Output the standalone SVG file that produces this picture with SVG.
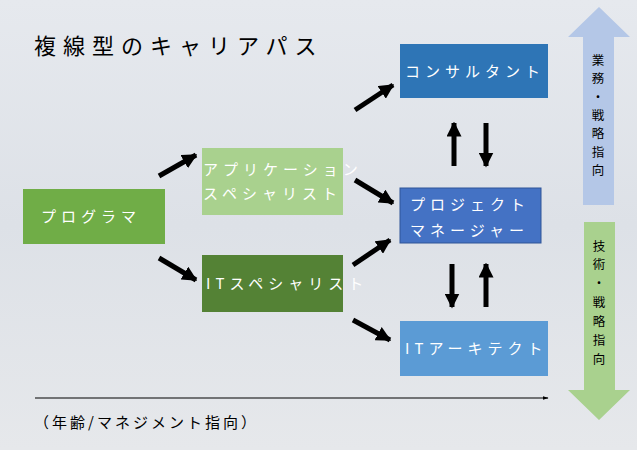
<svg xmlns="http://www.w3.org/2000/svg" width="637" height="450" viewBox="0 0 637 450">
<defs>
<linearGradient id="bg" x1="0" y1="0" x2="0" y2="1"><stop offset="0" stop-color="#e6e9ee"/><stop offset="0.5" stop-color="#dde1e7"/><stop offset="1" stop-color="#e6e8eb"/></linearGradient>
<marker id="ah" viewBox="0 0 10 10" refX="9" refY="5" markerWidth="3" markerHeight="3" orient="auto"><path d="M0,0 L10,5 L0,10 z" fill="#000"/></marker>
<marker id="thin" viewBox="0 0 10 10" refX="9" refY="5" markerWidth="6" markerHeight="6" orient="auto"><path d="M0,2 L10,5 L0,8 z" fill="#000"/></marker>
</defs>
<style>
.t{font-family:"Noto Sans CJK JP","Noto Sans",sans-serif;fill:#fff;font-size:15px;letter-spacing:5px}
.k{font-family:"Noto Sans CJK JP",sans-serif;fill:#000}
.a{stroke:#000;stroke-width:5;fill:none;marker-end:url(#ah)}
</style>
<rect width="637" height="450" fill="url(#bg)"/>
<text class="k" x="34" y="54" font-size="22" letter-spacing="7">複線型のキャリアパス</text>
<g id="programmer"><rect x="23" y="189" width="142" height="55" fill="#70ad47"/><text class="t" x="41" y="222">プログラマ</text></g>
<g id="appspec"><rect x="202" y="148" width="141" height="67" fill="#a9d18e"/><text class="t" x="203" y="175" font-size="14" letter-spacing="2.8">アプリケーション</text><text class="t" x="203" y="199" font-size="14" letter-spacing="2.8">スペシャリスト</text></g>
<g id="itspec"><rect x="202" y="255" width="141" height="57" fill="#548235"/><text class="t" x="206" y="289" font-size="14" letter-spacing="2.6">ITスペシャリスト</text></g>
<g id="consultant"><rect x="400" y="44" width="148" height="54" fill="#2e75b6"/><text class="t" x="405" y="77" letter-spacing="6.5">コンサルタント</text></g>
<g id="pm"><rect x="400" y="188" width="141" height="55" fill="#4472c4" stroke="#2f5597"/><text class="t" x="410" y="210" letter-spacing="6">プロジェクト</text><text class="t" x="410" y="236" letter-spacing="6">マネージャー</text></g>
<g id="itarch"><rect x="400" y="321" width="148" height="55" fill="#5b9bd5"/><text class="t" x="405" y="354" letter-spacing="5.5">ITアーキテクト</text></g>
<g id="connectors">
<line class="a" x1="159" y1="176" x2="196" y2="155"/>
<line class="a" x1="159" y1="258" x2="196" y2="280"/>
<line class="a" x1="355" y1="110" x2="393" y2="85"/>
<line class="a" x1="355" y1="180" x2="393" y2="203"/>
<line class="a" x1="353" y1="265" x2="390" y2="240"/>
<line class="a" x1="353" y1="320" x2="390" y2="340"/>
<line class="a" x1="454" y1="166" x2="454" y2="123"/>
<line class="a" x1="486" y1="123" x2="486" y2="166"/>
<line class="a" x1="452" y1="264" x2="452" y2="307"/>
<line class="a" x1="486" y1="307" x2="486" y2="264"/>
<line x1="35" y1="398" x2="548" y2="398" stroke="#000" stroke-width="1" marker-end="url(#thin)"/>
</g>
<g id="upArrow"><path d="M599,7 L630,37 L614,37 L614,205 L583,205 L583,37 L568,37 z" fill="#b4c7e7"/><text class="k" font-size="12.5" text-anchor="middle"><tspan x="598" y="65">業</tspan><tspan x="598" y="83">務</tspan><tspan x="598" y="102">・</tspan><tspan x="598" y="120">戦</tspan><tspan x="598" y="138">略</tspan><tspan x="598" y="157">指</tspan><tspan x="598" y="175">向</tspan></text></g>
<g id="downArrow"><path d="M584,222 L615,222 L615,390 L630,390 L599,420 L568,390 L584,390 z" fill="#a9d18e"/><text class="k" font-size="12.5" text-anchor="middle"><tspan x="599" y="251">技</tspan><tspan x="599" y="269">術</tspan><tspan x="599" y="288">・</tspan><tspan x="599" y="307">戦</tspan><tspan x="599" y="326">略</tspan><tspan x="599" y="345">指</tspan><tspan x="599" y="364">向</tspan></text></g>
<text class="k" x="34" y="428" font-size="15" letter-spacing="3">（年齢/マネジメント指向）</text>
</svg>
